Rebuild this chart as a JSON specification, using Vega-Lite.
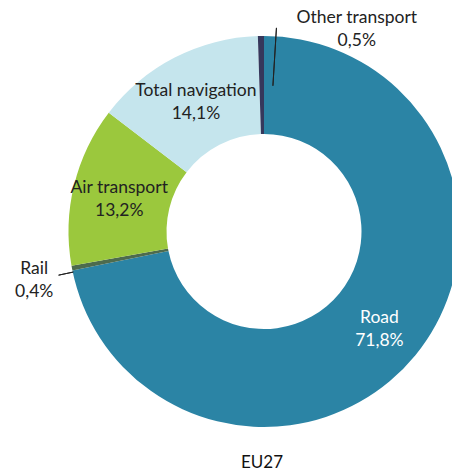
{
  "$schema": "https://vega.github.io/schema/vega-lite/v6.json",
  "width": 528,
  "height": 463,
  "autosize": {"type": "none"},
  "padding": {"left": 0, "top": 0, "right": 0, "bottom": 8},
  "background": "white",
  "view": {"stroke": null},
  "title": {"text": "EU27", "orient": "bottom", "offset": -8, "dx": -2, "font": "Lato", "fontSize": 17, "fontWeight": "normal", "color": "#111111", "anchor": "middle"},
  "data": {"values": [
    {"cat": "Road", "value": 71.8, "order": 1, "label": "Road\n71,8%"},
    {"cat": "Rail", "value": 0.4, "order": 2, "label": "Rail\n0,4%"},
    {"cat": "Air transport", "value": 13.2, "order": 3, "label": "Air transport\n13,2%"},
    {"cat": "Total navigation", "value": 14.1, "order": 4, "label": "Total navigation\n14,1%"},
    {"cat": "Other transport", "value": 0.5, "order": 5, "label": "Other transport\n0,5%"}
  ]},
  "encoding": {
    "theta": {"field": "value", "type": "quantitative", "stack": true},
    "order": {"field": "order", "type": "quantitative"}
  },
  "layer": [
    {
      "mark": {"type": "arc", "innerRadius": 97.5, "outerRadius": 195.5},
      "encoding": {
        "color": {"field": "cat", "type": "nominal", "legend": null,
          "scale": {"domain": ["Road", "Rail", "Air transport", "Total navigation", "Other transport"],
                    "range": ["#2b84a5", "#4d6b4e", "#9bc83d", "#c5e5ed", "#36385c"]}}
      }
    },
    {
      "transform": [{"stack": "value", "groupby": [], "sort": [{"field": "order"}], "as": ["s0", "s1"]}],
      "mark": {"type": "arc", "innerRadius": 195, "outerRadius": 210, "thetaOffset": -0.0084, "theta2Offset": -0.0084, "fill": null, "stroke": "#222222", "strokeWidth": 1},
      "encoding": {
        "theta": {"field": "s0", "type": "quantitative", "stack": null},
        "theta2": {"field": "s0"},
        "strokeOpacity": {"condition": {"test": "datum.cat === 'Rail'", "value": 1}, "value": 0}
      }
    },
    {
      "transform": [{"stack": "value", "groupby": [], "sort": [{"field": "order"}], "as": ["s0", "s1"]}],
      "mark": {"type": "arc", "innerRadius": 146, "outerRadius": 204, "thetaOffset": 0.0925, "theta2Offset": 0.0925, "fill": null, "stroke": "#222222", "strokeWidth": 1},
      "encoding": {
        "theta": {"field": "s0", "type": "quantitative", "stack": null},
        "theta2": {"field": "s0"},
        "strokeOpacity": {"condition": {"test": "datum.cat === 'Other transport'", "value": 1}, "value": 0}
      }
    },
    {
      "mark": {"type": "text", "radius": 149, "dy": -8, "font": "Lato", "fontSize": 17.5, "lineBreak": "\n", "lineHeight": 23, "align": "center", "baseline": "middle"},
      "encoding": {
        "text": {"condition": {"test": "datum.cat === 'Road' || datum.cat === 'Air transport' || datum.cat === 'Total navigation'", "field": "label"}, "value": ""},
        "color": {"condition": {"test": "datum.cat === 'Road'", "value": "white"}, "value": "#222222"}
      }
    },
    {
      "mark": {"type": "text", "radius": 236, "dx": 2, "dy": -7, "font": "Lato", "fontSize": 17.5, "lineBreak": "\n", "lineHeight": 23, "align": "center", "baseline": "middle", "color": "#222222"},
      "encoding": {
        "text": {"condition": {"test": "datum.cat === 'Rail'", "field": "label"}, "value": ""}
      }
    },
    {
      "mark": {"type": "text", "radius": 205, "dx": 96, "dy": -9, "font": "Lato", "fontSize": 17.5, "lineBreak": "\n", "lineHeight": 23, "align": "center", "baseline": "middle", "color": "#222222"},
      "encoding": {
        "text": {"condition": {"test": "datum.cat === 'Other transport'", "field": "label"}, "value": ""}
      }
    }
  ]
}
